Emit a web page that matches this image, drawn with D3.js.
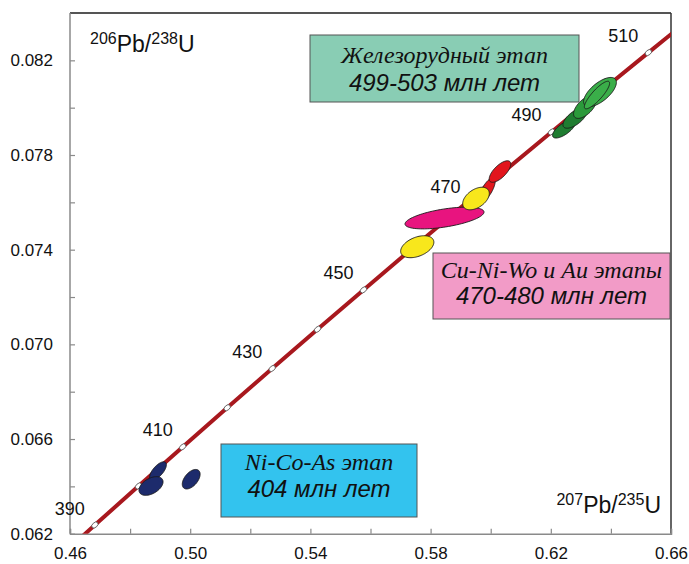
<!DOCTYPE html>
<html><head><meta charset="utf-8">
<script src="https://cdn.jsdelivr.net/npm/d3@7"></script>
<style>body{margin:0;background:#fff} svg{display:block}</style>
</head><body>
<svg id="c" width="689" height="564"></svg>
<script>
// ---- data ----
const xTickValues = [0.46,0.48,0.50,0.52,0.54,0.56,0.58,0.60,0.62,0.64,0.66];
const xTickLabels = ["0.46","0.50","0.54","0.58","0.62","0.66"];
const yTickValues = [0.062,0.064,0.066,0.068,0.070,0.072,0.074,0.076,0.078,0.080,0.082];
const yTickLabels = ["0.062","0.066","0.070","0.074","0.078","0.082"];

// concordia (age, Ma) and ratios
const concordiaAge = [380,390,400,410,420,430,440,450,460,470,480,490,500,510,520];
const concordia207 = [0.45389,0.46828,0.48281,0.49749,0.51231,0.52728,0.54239,0.55766,0.57307,0.58864,0.60437,0.62024,0.63628,0.65247,0.66883];
const concordia206 = [0.060720,0.062366,0.064016,0.065667,0.067322,0.068979,0.070638,0.072300,0.073965,0.075632,0.077302,0.078975,0.080650,0.082327,0.084008];
const ageLabels = [390,410,430,450,470,490,510];

// analyses: error ellipses (centre, half-extent in x and y, correlation)
const ellipseGroup = ["NiCoAs","NiCoAs","NiCoAs","CuNi_red","CuNi_red","CuNi_pink","CuNi_yellow","CuNi_yellow","Fe_dark","Fe_dark","Fe_mid","Fe_light","Fe_light"];
const ellipseX   = [0.48928,0.48696,0.50033,0.59877,0.60309,0.58463,0.57556,0.59511,0.62439,0.62805,0.63138,0.63637,0.63537];
const ellipseY   = [0.064649,0.064015,0.064302,0.076521,0.077302,0.075338,0.074125,0.076161,0.079098,0.079562,0.080027,0.080661,0.080534];
const ellipseErrX= [0.00280,0.00400,0.002965,0.00274,0.003584,0.013145,0.005524,0.004426,0.00380,0.00400,0.00380,0.00545,0.0042];
const ellipseErrY= [0.000390,0.000395,0.000412,0.000523,0.000455,0.000459,0.000464,0.000477,0.00038,0.000430,0.000480,0.000616,0.000582];
const ellipseRho = [0.68,0.447,0.51,0.727,0.69,0.547,0.411,0.45,0.70,0.66,0.6,0.658,0.856];

const stageLine1 = ["Железорудный этап","Cu-Ni-Wo и Au этапы","Ni-Co-As этап"];
const stageLine2 = ["499-503 млн лет","470-480 млн лет","404 млн лет"];

// ---- drawing ----
const svg = d3.select("#c");
const X0=70, X1=671, Y0=533.7, Y1=13;
const x = d3.scaleLinear().domain([0.46,0.66]).range([X0,X1]);
const y = d3.scaleLinear().domain([0.062,0.084]).range([Y0,Y1]);

const groupColor = {NiCoAs:"#1d2b6c",CuNi_red:"#e2161d",CuNi_pink:"#e8147f",CuNi_yellow:"#f8e71c",
  Fe_dark:"#1f7d31",Fe_mid:"#2b9a3b",Fe_light:"#3aae49"};

svg.append("defs").append("clipPath").attr("id","clip").append("rect")
  .attr("x",X0).attr("y",Y1).attr("width",X1-X0).attr("height",Y0-Y1);

// frame top/right
svg.append("line").attr("x1",X0).attr("x2",X1).attr("y1",Y1).attr("y2",Y1).attr("stroke","#555").attr("stroke-width",2);
svg.append("line").attr("x1",X1).attr("x2",X1).attr("y1",Y1).attr("y2",Y0).attr("stroke","#333").attr("stroke-width",1.5);

// axes
const fontAxis = "'Liberation Sans', Arial, sans-serif";
const xAxis = d3.axisBottom(x).tickValues(xTickValues).tickSize(-5).tickPadding(13.5)
  .tickFormat(d => xTickLabels.includes(d.toFixed(2)) ? d.toFixed(2) : "");
const gx = svg.append("g").attr("transform",`translate(0,${Y0})`).call(xAxis);
const yAxis = d3.axisLeft(y).tickValues(yTickValues).tickSize(-5).tickPadding(17)
  .tickFormat(d => yTickLabels.includes(d.toFixed(3)) ? d.toFixed(3) : "");
const gy = svg.append("g").attr("transform",`translate(${X0},0)`).call(yAxis);
[gx,gy].forEach(g=>{
  g.select(".domain").attr("stroke","#8a8a8a").attr("stroke-width",1.5);
  g.selectAll(".tick line").attr("stroke","#8a8a8a").attr("stroke-width",1.2);
  g.selectAll(".tick text").attr("font-family",fontAxis).attr("font-size",17).attr("fill","#111");
});
gy.select(".domain").attr("d",`M0,${Y0}V${Y1}`);

// concordia
const plot = svg.append("g").attr("clip-path","url(#clip)");
const conc = concordiaAge.map((a,i)=>({age:a, x:concordia207[i], y:concordia206[i]}));
plot.append("path").datum(conc)
  .attr("d", d3.line().x(d=>x(d.x)).y(d=>y(d.y)).curve(d3.curveMonotoneX))
  .attr("fill","none").attr("stroke","#a8181e").attr("stroke-width",4);

// age markers
conc.forEach((d,i)=>{
  const p = conc[Math.max(0,i-1)], n = conc[Math.min(conc.length-1,i+1)];
  const ang = Math.atan2(y(n.y)-y(p.y), x(n.x)-x(p.x))*180/Math.PI;
  plot.append("ellipse").attr("cx",x(d.x)).attr("cy",y(d.y)).attr("rx",3.6).attr("ry",2.4)
    .attr("transform",`rotate(${ang},${x(d.x)},${y(d.y)})`)
    .attr("fill","#fff").attr("stroke","#555").attr("stroke-width",0.8);
});

// age labels
ageLabels.forEach(a=>{
  const d = conc.find(c=>c.age===a);
  const off = a===470 ? [-11,-25] : [-25,-17];
  svg.append("text").attr("x",x(d.x)+off[0]).attr("y",y(d.y)+off[1]).attr("dy","0.36em")
    .attr("text-anchor","middle").attr("font-family",fontAxis).attr("font-size",18).attr("fill","#111").text(a);
});

// error ellipses
const ell = ellipseX.map((cx,i)=>({cx, cy:ellipseY[i], ex:ellipseErrX[i], ey:ellipseErrY[i], r:ellipseRho[i], g:ellipseGroup[i]}));
const N=90;
ell.forEach(e=>{
  const pts = d3.range(N).map(k=>{
    const t = 2*Math.PI*k/N;
    return [x(e.cx + e.ex*Math.cos(t)), y(e.cy + e.ey*(e.r*Math.cos(t) + Math.sqrt(1-e.r*e.r)*Math.sin(t)))];
  });
  svg.append("path").attr("d", d3.line().curve(d3.curveLinearClosed)(pts))
    .attr("fill", groupColor[e.g]).attr("stroke","#1a1a1a").attr("stroke-width",0.9);
});

// stage boxes
const boxes = [
  {x:310,y:35,w:269,h:67,fill:"#89cdb4",t1y:63,t2y:91},
  {x:433,y:253,w:237,h:66,fill:"#f29bc7",t1y:278,t2y:304},
  {x:221,y:444,w:196,h:73,fill:"#33c3ee",t1y:470,t2y:497}
];
boxes.forEach((b,i)=>{
  svg.append("rect").attr("x",b.x).attr("y",b.y).attr("width",b.w).attr("height",b.h)
    .attr("fill",b.fill).attr("stroke","#555").attr("stroke-width",1);
  svg.append("text").attr("x",b.x+b.w/2).attr("y",b.t1y).attr("text-anchor","middle")
    .attr("font-family","'Liberation Serif','Times New Roman',serif").attr("font-style","italic")
    .attr("font-size",24).attr("fill","#111").text(stageLine1[i]);
  svg.append("text").attr("x",b.x+b.w/2).attr("y",b.t2y).attr("text-anchor","middle")
    .attr("font-family",fontAxis).attr("font-style","italic")
    .attr("font-size",24).attr("fill","#111").text(stageLine2[i]);
});

// axis titles with superscripts
function isoLabel(xp, yp, anchor, sup1, sup2){
  const t = svg.append("text").attr("x",xp).attr("y",yp).attr("text-anchor",anchor)
    .attr("font-family",fontAxis).attr("font-size",23).attr("fill","#111");
  t.append("tspan").attr("font-size",16).attr("dy",-8).text(sup1);
  t.append("tspan").attr("dy",8).text("Pb/");
  t.append("tspan").attr("font-size",16).attr("dy",-8).text(sup2);
  t.append("tspan").attr("dy",8).text("U");
}
isoLabel(90,52,"start","206","238");
isoLabel(661,513,"end","207","235");
</script>
</body></html>
